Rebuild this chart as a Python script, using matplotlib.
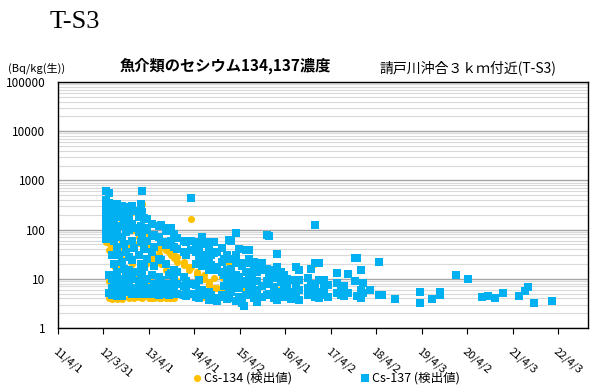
import matplotlib.pyplot as plt
import matplotlib.ticker as mticker
import numpy as np
import pandas as pd

plt.rcParams['font.family'] = ['Noto Sans CJK JP', 'DejaVu Sans']

# Cs-137 detected values (Bq/kg wet) per sampling date
cs137_dates = [
    '2012-04-21', '2012-05-16', '2012-06-09', '2012-06-25', '2012-07-19',
    '2012-08-04', '2012-08-28', '2012-09-13', '2012-09-29', '2012-10-24',
    '2012-11-17', '2012-12-03', '2013-01-12', '2013-01-28', '2013-02-05',
    '2013-02-21', '2013-03-18', '2013-04-27', '2013-05-13', '2013-06-22',
    '2013-07-08', '2013-08-17', '2013-09-11', '2013-09-27', '2013-10-21',
    '2013-11-14', '2014-01-09', '2014-01-25', '2014-03-07', '2014-04-16',
    '2014-05-10', '2014-06-03', '2014-06-19', '2014-07-05', '2014-07-30',
    '2014-08-15', '2014-09-08', '2014-10-02', '2014-11-11', '2014-11-27',
    '2014-12-22', '2015-01-07', '2015-01-23', '2015-03-04', '2015-03-28',
    '2015-04-21', '2015-05-07', '2015-05-24', '2015-06-17', '2015-07-11',
    '2015-07-27', '2015-08-20', '2015-09-29', '2015-11-09', '2015-11-25',
    '2016-01-04', '2016-01-28', '2016-02-29', '2016-03-24', '2016-04-18',
    '2016-05-20', '2016-06-29', '2016-07-23', '2016-09-26', '2016-10-28',
    '2016-11-29', '2016-12-31', '2017-02-09', '2017-03-06', '2017-05-17',
    '2017-06-26', '2017-07-20', '2017-08-14', '2017-10-09', '2017-10-25',
    '2017-11-26', '2017-12-12', '2018-02-07', '2018-04-20', '2018-05-14',
    '2018-08-27', '2019-03-16', '2019-06-21', '2019-08-24', '2019-12-31',
    '2020-04-06', '2020-07-27', '2020-09-13', '2020-11-08', '2021-01-11',
    '2021-05-20', '2021-07-08', '2021-08-01', '2021-09-18', '2022-02-10',
]
cs137_vals = [
    [600, 400, 280, 190, 130, 90, 65],
    [560, 350, 230, 160, 110, 75, 12, 5.2],
    [300, 180, 100, 30, 10, 6.5, 4.6],
    [220, 140, 60, 20, 8, 5],
    [330, 200, 85, 45, 14, 4.4],
    [250, 120, 30, 10, 6],
    [300, 180, 70, 22, 6.8, 4.5],
    [290, 130, 50, 16, 9],
    [250, 90, 35, 12, 5.5],
    [280, 170, 100, 28, 15, 8],
    [300, 130, 60, 24, 10, 4.9],
    [240, 110, 42, 14, 6.5],
    [180, 90, 30, 9, 5],
    [330, 220, 120, 55, 20, 11, 7],
    [600, 230, 70, 14, 4.8],
    [170, 100, 40, 17, 6.8],
    [165, 110, 60, 25, 10, 5],
    [130, 75, 35, 12, 6.5],
    [78, 45, 18, 8, 4.9],
    [120, 70, 25, 11, 6, 4.6],
    [123, 55, 24, 9.5, 6.8],
    [95, 48, 20, 8, 5],
    [110, 55, 12, 6, 4.6],
    [110, 60, 13, 7],
    [80, 45, 15, 9.5, 5.5],
    [67, 40, 14, 8, 5],
    [60, 35, 11, 7, 4.7],
    [56, 30, 9, 6, 4.4],
    [440, 58, 38, 8, 5],
    [56, 35, 20, 7.5, 4.3],
    [45, 25, 9.5, 6, 4],
    [71, 30, 18, 5.9],
    [50, 26, 5],
    [56, 28, 18, 4.7],
    [40, 26, 15, 5.5, 3.7],
    [30, 19, 4.7],
    [56, 33, 17, 4],
    [35, 15, 3.5],
    [42, 22, 14, 4.7],
    [25, 12, 7, 4.3],
    [30, 15, 9, 3.9],
    [61, 25, 11, 6, 4.1],
    [59, 16, 8, 5.5],
    [85, 30, 21, 12, 8.2, 3.5],
    [40, 21, 11, 6.5, 4.3],
    [18, 9, 3.2],
    [2.8],
    [38, 21, 14, 8, 4.7],
    [39, 25, 10, 5.9],
    [21, 12, 8.2, 4.7],
    [22, 15, 6, 4.1],
    [14, 9, 5.1, 3.3],
    [21, 15, 7, 4.3],
    [78, 16, 9, 4.7],
    [74, 13, 8, 5],
    [15, 11, 6.8, 4.1],
    [32, 17, 10.4, 5.1, 3.7],
    [14, 8.6, 5.5, 4.3],
    [12, 7.5, 4.7],
    [10, 6.5, 4.3],
    [9.5, 5.5, 3.9],
    [17, 8.6, 6.5, 4.1],
    [15, 9.5, 5.9, 3.7],
    [10.4, 6.5, 4.7],
    [16, 8, 5],
    [125, 21, 6.8, 4.3],
    [21, 9.5, 5.5, 4.1],
    [9.5, 6.5, 4.7],
    [7.5, 4.3],
    [13, 8.2, 5.1],
    [5.9, 4.7],
    [7, 4.5],
    [12.5, 5.1],
    [26, 9],
    [27, 4.5],
    [15, 6, 4.1],
    [8.2, 5.1],
    [5.9],
    [22, 4.7],
    [4.7],
    [3.9],
    [5.4, 3.2],
    [3.9],
    [5.4, 4.7],
    [12],
    [10],
    [4.3],
    [4.5],
    [4.1],
    [5.1],
    [4.5],
    [5.6],
    [6.8],
    [3.2],
    [3.5],
]

# Cs-134 detected values (Bq/kg wet) per sampling date
cs134_dates = [
    '2012-04-21', '2012-05-16', '2012-06-09', '2012-06-25', '2012-07-19',
    '2012-08-04', '2012-08-28', '2012-09-29', '2012-10-24', '2012-11-17',
    '2012-12-03', '2013-01-12', '2013-02-05', '2013-03-09', '2013-04-03',
    '2013-04-27', '2013-05-13', '2013-06-22', '2013-07-08', '2013-08-17',
    '2013-09-11', '2013-09-27', '2013-10-21', '2013-11-14', '2014-01-09',
    '2014-02-19', '2014-03-07', '2014-04-24', '2014-06-19', '2014-07-30',
    '2014-09-08', '2014-10-02', '2014-11-11', '2015-01-07', '2015-03-04',
    '2015-04-21', '2015-07-11', '2015-11-09', '2016-02-13', '2016-11-21',
]
cs134_vals = [
    [400, 210, 56],
    [300, 150, 53, 39, 9, 4.0],
    [50, 42, 3.9],
    [160, 56, 39, 18, 4.2],
    [120, 40, 20, 9, 3.9],
    [39, 15, 6],
    [150, 60, 25, 8, 3.9],
    [90, 35, 12, 6],
    [200, 50, 15, 8, 4.1],
    [230, 60, 20, 4.2],
    [100, 49, 10.9, 4],
    [70, 53, 12, 4.2],
    [330, 56, 10.4, 4.1],
    [56, 20, 6],
    [80, 42, 9, 4.1],
    [25, 4.0],
    [42, 25, 7, 4.1],
    [40, 32, 4.0],
    [53, 20, 4.1],
    [38, 15, 4.1],
    [40, 35, 4.0],
    [35, 30, 4],
    [30, 26, 4],
    [28, 22, 9],
    [22, 19, 6.5],
    [17, 15, 5],
    [165, 17],
    [13.7, 12, 5.5],
    [12, 10, 4.2],
    [8.6, 7.5, 4],
    [10.4, 6.5],
    [6.5, 4.1],
    [10.9, 6],
    [21, 4.3],
    [9.5],
    [6.5],
    [5],
    [16],
    [6],
    [20],
]

tick_dates = ['2011-04-01', '2012-03-31', '2013-04-01', '2014-04-01', '2015-04-02',
              '2016-04-01', '2017-04-02', '2018-04-02', '2019-04-03', '2020-04-02',
              '2021-04-03', '2022-04-03']
tick_labels = ['11/4/1', '12/3/31', '13/4/1', '14/4/1', '15/4/2', '16/4/1',
               '17/4/2', '18/4/2', '19/4/3', '20/4/2', '21/4/3', '22/4/3']


def flatten(dates, vals):
    x = np.repeat(pd.to_datetime(dates), [len(v) for v in vals])
    y = np.concatenate([np.asarray(v, dtype=float) for v in vals])
    return x, y


x134, y134 = flatten(cs134_dates, cs134_vals)
x137, y137 = flatten(cs137_dates, cs137_vals)

fig = plt.figure(figsize=(5.93, 3.85), dpi=100)
ax = fig.add_axes([58 / 593, 1 - 328 / 385, 530 / 593, 246 / 385])

ax.scatter(x134, y134, marker='o', s=26, color='#FFC000', linewidths=0,
           label='Cs-134 (検出値)', zorder=3)
ax.scatter(x137, y137, marker='s', s=26, color='#00B0F0', linewidths=0,
           label='Cs-137 (検出値)', zorder=4)

ax.set_yscale('log')
ax.set_ylim(1, 100000)
ax.set_xlim(pd.Timestamp('2011-04-01'), pd.Timestamp('2022-11-28'))

ax.yaxis.set_major_locator(mticker.LogLocator(base=10, numticks=10))
ax.yaxis.set_minor_locator(mticker.LogLocator(base=10, subs=np.arange(2, 10), numticks=10))
ax.yaxis.set_major_formatter(mticker.FuncFormatter(lambda v, p: f'{v:.0f}'))
ax.yaxis.set_minor_formatter(mticker.NullFormatter())
ax.grid(True, axis='y', which='major', color='#A6A6A6', lw=1.0, zorder=0)
ax.grid(True, axis='y', which='minor', color='#D9D9D9', lw=0.8, zorder=0)
ax.tick_params(axis='y', which='both', length=0, labelsize=8.5, pad=9)

ax.set_xticks(pd.to_datetime(tick_dates))
ax.set_xticklabels(tick_labels, rotation=-40, ha='left', va='top',
                   rotation_mode='anchor', fontsize=8)
ax.tick_params(axis='x', which='major', direction='out', length=4, width=0.8, pad=9)
ax.tick_params(axis='x', which='minor', length=0)

for side in ax.spines.values():
    side.set_color('black')
    side.set_linewidth(1.0)

fig.text(50 / 593, 1 - 22 / 385, 'T-S3', family='Liberation Serif', fontsize=19,
         va='center', ha='left')
fig.text(8 / 593, 1 - 68 / 385, '(Bq/kg(生))', fontsize=8, va='center', ha='left')
fig.text(225 / 593, 1 - 66 / 385, '魚介類のセシウム134,137濃度', fontsize=11,
         fontweight='bold', va='center', ha='center')
fig.text(380 / 593, 1 - 68 / 385, '請戸川沖合３ｋｍ付近(T-S3)', fontsize=10,
         va='center', ha='left')

fig.legend(loc='center', bbox_to_anchor=(326 / 593, 7 / 385), ncol=2, frameon=False,
           fontsize=9, handletextpad=0.1, columnspacing=5.5, markerscale=1.0,
           handlelength=0.8, borderpad=0)

fig.savefig('out.png', dpi=100)
